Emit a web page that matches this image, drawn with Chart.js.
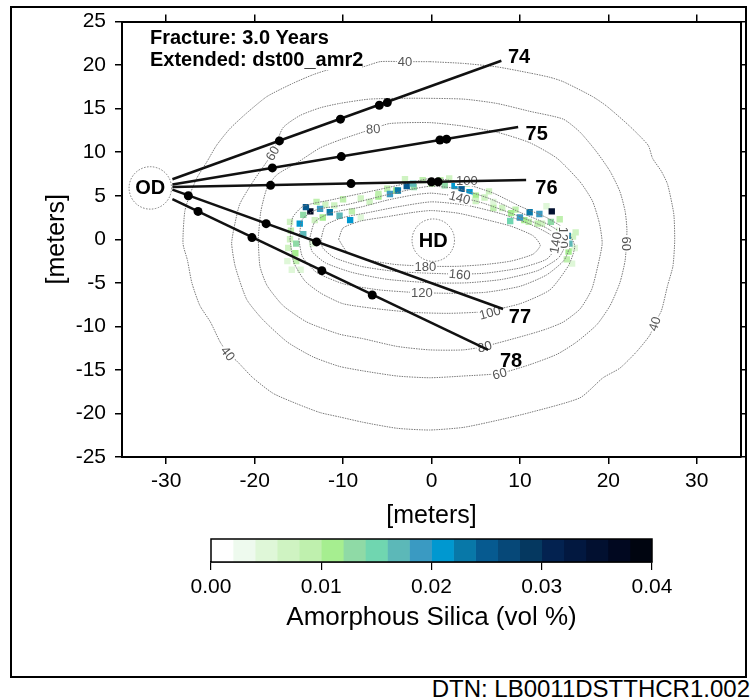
<!DOCTYPE html>
<html>
<head>
<meta charset="utf-8">
<script src="https://cdn.jsdelivr.net/npm/chart.js@4/dist/chart.umd.min.js"></script>
<style>
  html, body { margin: 0; padding: 0; background: #fff; }
  body { width: 751px; height: 700px; position: relative; overflow: hidden; font-family: "Liberation Sans", Arial, sans-serif; }
  #frame { position: absolute; left: 10px; top: 6px; width: 737px; height: 672px; border: 2px solid #000; box-sizing: border-box; }
  #plot { position: absolute; left: 0; top: 0; }
  #bar { position: absolute; left: 0; top: 520px; }
  #dtn { position: absolute; right: 1px; top: 677px; font-size: 24px; line-height: 24px; color: #000; }
</style>
</head>
<body>
<div id="frame"></div>
<canvas id="plot" width="751" height="540"></canvas>
<canvas id="bar" width="751" height="130"></canvas>
<div id="dtn">DTN: LB0011DSTTHCR1.002</div>
<script>
const FONT = '"Liberation Sans", Arial, sans-serif';

const xTicks = [-30, -20, -10, 0, 10, 20, 30];
const yTicks = [-25, -20, -15, -10, -5, 0, 5, 10, 15, 20, 25];

// temperature contours, [x, y] in meters
const contour40 = [[-0.2,20.4],[-3.0,20.4],[-5.8,20.4],[-7.8,19.8],[-11.5,19.5],[-13.4,18.9],[-15.7,17.9],[-18.6,16.4],[-20.9,14.5],[-22.8,12.7],[-24.3,10.8],[-25.4,8.9],[-26.5,7.1],[-27.3,5.2],[-27.9,3.2],[-28.1,-0.5],[-27.6,-2.4],[-27.1,-5.0],[-26.2,-7.6],[-25.0,-9.5],[-23.9,-11.8],[-23.0,-13.1],[-22.0,-14.0],[-20.2,-15.9],[-17.9,-17.7],[-15.2,-18.9],[-12.6,-19.9],[-10.4,-20.4],[-7.8,-21.0],[-3.9,-21.7],[-0.2,-21.9],[3.6,-21.6],[7.4,-20.8],[11.1,-19.9],[16.8,-18.2],[19.4,-15.9],[21.3,-14.8],[23.2,-12.9],[24.7,-11.0],[25.2,-9.7],[26.0,-8.2],[26.7,-5.3],[27.3,-3.1],[27.5,-0.2],[27.4,2.9],[26.7,6.3],[26.0,7.8],[25.0,9.3],[24.5,10.8],[22.4,13.0],[19.8,15.3],[18.2,16.4],[14.9,18.1],[13.4,18.6],[11.1,19.1],[7.4,19.8],[3.6,20.2],[-0.2,20.4]];
const contour60 = [[-22.4,1.0],[-21.7,4.0],[-20.2,6.6],[-18.0,9.9],[-16.8,12.8],[-14.9,14.2],[-12.6,15.1],[-10.4,15.6],[-7.0,16.1],[-2.1,16.2],[3.6,16.1],[7.4,15.6],[11.1,14.7],[14.9,13.8],[16.8,12.3],[18.7,10.0],[20.2,7.8],[21.3,5.5],[21.9,3.2],[22.1,1.0],[21.9,-2.4],[21.3,-5.0],[20.2,-7.6],[18.7,-9.8],[16.4,-11.8],[14.2,-13.2],[11.1,-14.4],[7.7,-15.4],[3.6,-15.7],[-0.2,-15.9],[-3.9,-15.7],[-7.8,-15.1],[-10.4,-14.6],[-13.4,-13.5],[-16.3,-11.8],[-19.1,-9.2],[-20.9,-6.9],[-22.2,-3.1],[-22.6,-0.5],[-22.4,1.0]];
const contour80 = [[-19.6,0.1],[-19.3,3.2],[-18.6,5.9],[-17.5,7.4],[-15.2,8.8],[-12.6,10.5],[-10.4,11.4],[-6.6,12.7],[-4.7,13.3],[-0.2,13.4],[3.6,13.0],[7.4,12.3],[11.1,11.1],[14.2,9.3],[16.8,6.6],[18.2,4.4],[19.0,1.8],[19.3,-0.5],[18.8,-3.1],[18.1,-5.8],[16.8,-8.0],[14.9,-9.5],[13.0,-10.3],[11.1,-10.9],[6.0,-12.3],[3.6,-12.7],[-0.2,-12.7],[-3.9,-12.3],[-7.8,-11.4],[-10.4,-10.9],[-14.1,-9.5],[-16.8,-7.6],[-18.6,-5.3],[-19.4,-3.1],[-19.6,0.1]];
const contour100 = [[-16.0,0],[-15.7,2.5],[-14.5,3.8],[-11,4.6],[-6,5.7],[-2,6.6],[0,7.0],[3,6.6],[7,5.3],[10,3.8],[13,2.5],[15.3,1.0],[16.2,-0.8],[15.5,-3.0],[13.4,-5.8],[10,-7.4],[6,-8.3],[2,-8.5],[-2,-8.4],[-6,-8.0],[-10,-7.4],[-12.5,-6.2],[-14.3,-4.8],[-15.6,-2.6],[-16.0,0]];
const contour120 = [[-15,0],[-14.6,2.3],[-13,3.4],[-9.5,4.0],[-5.5,5.0],[-2,5.8],[0,6.1],[3,5.8],[6.5,4.7],[10,3.1],[13,1.8],[15,0.5],[15.6,-0.8],[15,-2.4],[13,-4.1],[10,-5.4],[6,-6.1],[2,-6.2],[-2,-6.1],[-6,-5.8],[-10,-5.1],[-13,-3.8],[-14.6,-2],[-15,0]];
const contour140 = [[-13.8,0],[-13.2,2],[-11.5,3],[-8,3.7],[-5,4.5],[-2,5.1],[0,5.3],[3,4.9],[6,4.1],[10,2.6],[13,1.3],[14.8,0],[15,-1],[14.3,-2.2],[12,-3.6],[8,-4.6],[4,-5.0],[0,-5.0],[-5,-4.6],[-9,-3.8],[-12,-2.7],[-13.5,-1.4],[-13.8,0]];
const contour160 = [[-12.5,0],[-12,1.6],[-10,2.5],[-7,3.1],[-4,3.7],[0,4.3],[4,3.9],[8,2.9],[11,1.8],[13.6,0.4],[14,-1],[13,-2.3],[10,-3.3],[6,-3.9],[3,-4.0],[0,-3.9],[-4,-3.7],[-8,-3.1],[-11,-2.1],[-12.3,-1],[-12.5,0]];
const contour180 = [[-10.5,0],[-10,1.3],[-8,2.1],[-5,2.6],[-2,3.1],[0,3.3],[3,3.0],[6,2.3],[9,1.5],[11.5,0.4],[12.3,-0.7],[11.5,-1.7],[9,-2.5],[6,-2.9],[3,-3.1],[0,-3.1],[-4,-2.9],[-7,-2.4],[-9.5,-1.5],[-10.5,0]];
const contours = [contour40, contour60, contour80, contour100, contour120, contour140, contour160, contour180];

// contour labels: [x, y, text, angle in degrees]
const contourLabels = [
  [-3.0, 20.4, "40", 0], [-23.0, -13.1, "40", 52], [25.2, -9.7, "40", -72],
  [-18.0, 9.9, "60", -60], [22.1, -0.5, "60", 90], [7.7, -15.4, "60", -15],
  [-6.6, 12.7, "80", -4], [6.0, -12.3, "80", -15],
  [4.0, 6.8, "100", 0], [6.6, -8.4, "100", -15],
  [3.2, 4.8, "140", 15], [-0.7, -3.1, "180", 0], [3.2, -4.0, "160", 5], [-1.1, -6.1, "120", 0],
  [14.9, 0.2, "120", 90], [14.0, -0.4, "140", -80]
];

// fractures from the observation drift
const fractureNames = ["74", "75", "76", "77", "78"];
const fractureStart = [[-29.3, 6.9], [-29.3, 6.3], [-29.3, 6.0], [-29.3, 5.7], [-29.3, 4.6]];
const fractureEnd = [[7.9, 20.5], [9.8, 12.9], [10.7, 6.8], [8.1, -8.0], [6.4, -12.7]];
const fractureLabelAt = [[9.9, 21.0], [11.9, 12.1], [13.0, 6.0], [10.0, -8.9], [9.0, -13.9]];
const sensorX = [-17.2, -10.3, -5.9, -5.0, -18.0, -10.2, 0.95, 1.7, -18.2, -9.1, 0.0, 0.75, -27.5, -18.7, -13.0, -26.4, -20.3, -12.4, -6.7];
const sensorY = [11.3, 13.8, 15.4, 15.7, 8.2, 9.5, 11.4, 11.5, 6.2, 6.4, 6.6, 6.6, 5.0, 1.8, -0.3, 3.2, 0.2, -3.6, -6.4];

// drifts
const driftNames = ["OD", "HD"];
const driftCenter = [[-31.8, 5.9], [0.2, -0.1]];
const driftRadius = 2.4;

// amorphous silica (vol %): halo first, cores last
const silicaX = [-16.0, -16.0, -15.8, -13.0, -11.0, -9.0, -8.0, -7.0, -6.0, -5.0, -3.0, -1.0, 1.0, 2.0, 4.0, 5.0, 6.0, 7.0, 6.5, 8.0, 9.5, 11.0, 12.5, 13.0, 14.5, 16.0, 16.2, -12.3, -14.5, -13.5,
  -12.0, -10.0, -8.0, -6.0, -4.0, -2.0, 0.0, 1.5, 3.0, 5.0, 7.0, 9.0, 10.5, 12.0, 13.5, 14.5, 16.3, 15.9, -16.2, -15.9, -16.3, -14.8, -13.2,
  -13.7, -14.2, -12.6, -11.5, -10.4, -9.2, -14.9, -14.5, -15.3, -15.4, -15.3, -4.7, -3.8, -2.8, -2.1, 2.6, 3.4, 4.3, 8.9, 10.0, 11.1, 12.2, 13.6, 15.1, 15.4, 15.6, 15.5, 15.3];
const silicaY = [2.0, 0.0, -3.5, 4.3, 3.9, 3.2, 2.5, 4.3, 4.9, 5.8, 6.9, 6.8, 6.8, 7.0, 6.4, 5.0, 4.8, 4.3, 5.5, 3.6, 3.4, 2.0, 1.8, 3.8, 2.3, 0.3, -1.0, 2.5, 2.8, -0.5,
  4.0, 4.6, 4.7, 5.2, 5.6, 6.0, 6.4, 6.2, 5.2, 4.4, 3.6, 3.0, 2.2, 1.8, 2.0, 1.0, 0.8, -2.8, -1.0, 1.0, -2.5, -3.5, 2.2,
  3.2, 3.7, 3.5, 3.1, 2.7, 2.2, 1.8, 0.6, -0.5, -1.6, -2.5, 5.2, 5.6, 6.1, 6.4, 6.1, 5.8, 5.4, 2.1, 2.5, 3.1, 2.9, 3.2, 1.1, 0.4, -0.5, -1.4, -2.3];
const silicaVal = [0.006, 0.006, 0.004, 0.008, 0.006, 0.008, 0.004, 0.006, 0.010, 0.008, 0.006, 0.008, 0.008, 0.006, 0.008, 0.010, 0.006, 0.004, 0.006, 0.006, 0.008, 0.008, 0.006, 0.004, 0.008, 0.006, 0.004, 0.010, 0.012, 0.004,
  0.006, 0.008, 0.006, 0.008, 0.010, 0.012, 0.010, 0.012, 0.008, 0.006, 0.008, 0.010, 0.010, 0.008, 0.012, 0.010, 0.006, 0.004, 0.006, 0.008, 0.004, 0.004, 0.006,
  0.036, 0.024, 0.018, 0.022, 0.016, 0.020, 0.020, 0.016, 0.012, 0.010, 0.008, 0.018, 0.022, 0.024, 0.016, 0.020, 0.024, 0.020, 0.014, 0.018, 0.022, 0.018, 0.034, 0.032, 0.022, 0.016, 0.010, 0.008];

// colour bar
const silicaBins = [0, 0.002, 0.004, 0.006, 0.008, 0.010, 0.012, 0.014, 0.016, 0.018, 0.020, 0.022, 0.024, 0.026, 0.028, 0.030, 0.032, 0.034, 0.036, 0.038, 0.040];
const binColors = ["#ffffff", "#eefaee", "#dff7d8", "#cff3c2", "#bff0ae", "#a6ee90", "#8fdaa6", "#70d6b0", "#5cb8b8", "#3a9ac2",
  "#0098d0", "#0878a8", "#065a90", "#064878", "#053860", "#032250", "#021840", "#021030", "#010820", "#000510"];
const barTicks = [0, 0.01, 0.02, 0.03, 0.04];

function silicaColor(v) {
  let i = silicaBins.findIndex((b, k) => k > 0 && v < b) - 1;
  if (i < 0) i = binColors.length - 1;
  return binColors[i];
}

const toPts = arr => arr.map(([x, y]) => ({ x, y }));

const datasets = [];
contours.forEach(c => datasets.push({
  data: toPts(c), showLine: true, pointRadius: 0, borderColor: "#7a7a7a",
  borderWidth: 1, borderDash: [1.5, 1], tension: 0.2, order: 3
}));
datasets.push({
  data: silicaX.map((x, i) => ({ x, y: silicaY[i] })),
  pointStyle: "rect", pointRadius: silicaVal.map(v => v >= 0.014 ? 4.5 : 4.5),
  backgroundColor: silicaVal.map(silicaColor), borderWidth: 0, order: 4
});
fractureStart.forEach((s, i) => datasets.push({
  data: toPts([s, fractureEnd[i]]), showLine: true, pointRadius: 0,
  borderColor: "#111", borderWidth: 2.5, order: 1
}));
datasets.push({
  data: sensorX.map((x, i) => ({ x, y: sensorY[i] })),
  pointRadius: 4.5, backgroundColor: "#000", borderWidth: 0, order: 0
});

const overlay = {
  id: "overlay",
  afterDatasetDraw(chart, args) {
    if (args.index !== 0) return;
    const { ctx, scales: { x, y } } = chart;
    ctx.save();
    ctx.font = "13px " + FONT;
    ctx.textAlign = "center";
    ctx.textBaseline = "middle";
    contourLabels.forEach(([lx, ly, txt, ang]) => {
      ctx.save();
      ctx.translate(x.getPixelForValue(lx), y.getPixelForValue(ly));
      ctx.rotate(ang * Math.PI / 180);
      const w = ctx.measureText(txt).width;
      ctx.fillStyle = "#fff";
      ctx.fillRect(-w / 2 - 1, -6, w + 2, 12);
      ctx.fillStyle = "#555";
      ctx.fillText(txt, 0, 1);
      ctx.restore();
    });
    ctx.restore();
  },
  afterDatasetsDraw(chart) {
    const { ctx, scales: { x, y }, chartArea } = chart;
    ctx.save();
    // drifts
    driftCenter.forEach(([cx, cy], i) => {
      const px = x.getPixelForValue(cx), py = y.getPixelForValue(cy);
      const r = x.getPixelForValue(cx + driftRadius) - px;
      ctx.beginPath();
      ctx.arc(px, py, r, 0, Math.PI * 2);
      ctx.fillStyle = "#fff";
      ctx.fill();
      ctx.setLineDash([1.5, 1.5]);
      ctx.strokeStyle = "#777";
      ctx.lineWidth = 1;
      ctx.stroke();
      ctx.setLineDash([]);
      ctx.fillStyle = "#000";
      ctx.font = "bold 20px " + FONT;
      ctx.textAlign = "center";
      ctx.textBaseline = "middle";
      ctx.fillText(driftNames[i], px, py + 1);
    });
    // fracture numbers
    ctx.font = "bold 20px " + FONT;
    fractureNames.forEach((n, i) => {
      ctx.fillText(n, x.getPixelForValue(fractureLabelAt[i][0]), y.getPixelForValue(fractureLabelAt[i][1]) + 1);
    });
    // run title
    const tx = chartArea.left + 28;
    ctx.fillStyle = "#fff";
    ctx.fillRect(tx - 2, 26, 214, 44);
    ctx.fillStyle = "#000";
    ctx.textAlign = "left";
    ctx.fillText("Fracture: 3.0 Years", tx, 38);
    ctx.fillText("Extended: dst00_amr2", tx, 60);
    ctx.restore();
  }
};

const axisFont = { family: FONT, size: 21 };
const titleFont = { family: FONT, size: 25 };
const tickGrid = { drawOnChartArea: false, color: "#000", lineWidth: 1.5, tickLength: 7 };

new Chart(document.getElementById("plot"), {
  type: "scatter",
  data: { datasets },
  options: {
    responsive: false, animation: false, devicePixelRatio: 1,
    layout: { padding: 0 },
    plugins: { legend: { display: false }, tooltip: { enabled: false } },
    scales: {
      x: {
        type: "linear", position: "bottom", min: -35, max: 35,
        afterBuildTicks: s => { s.ticks = xTicks.map(v => ({ value: v })); },
        afterFit: s => { s.height = 83; },
        ticks: { color: "#000", font: axisFont, padding: 5, maxRotation: 0, callback: v => String(v) },
        grid: tickGrid, border: { color: "#000", width: 2 },
        title: { display: true, text: "[meters]", color: "#000", font: titleFont, padding: { top: 0, bottom: 9 } }
      },
      x2: {
        type: "linear", position: "top", min: -35, max: 35,
        afterBuildTicks: s => { s.ticks = xTicks.map(v => ({ value: v })); },
        afterFit: s => { s.height = 15; },
        ticks: { display: false }, grid: tickGrid, border: { color: "#000", width: 2 }
      },
      y: {
        type: "linear", position: "left", min: -25, max: 25,
        afterBuildTicks: s => { s.ticks = yTicks.map(v => ({ value: v })); },
        afterFit: s => { s.width = 122; },
        ticks: { color: "#000", font: axisFont, padding: 9, callback: v => String(v) },
        grid: tickGrid, border: { color: "#000", width: 2 },
        title: { display: true, text: "[meters]", color: "#000", font: titleFont, padding: { top: 42, bottom: 0 } }
      },
      y2: {
        type: "linear", position: "right", min: -25, max: 25,
        afterBuildTicks: s => { s.ticks = yTicks.map(v => ({ value: v })); },
        afterFit: s => { s.width = 10; },
        ticks: { display: false }, grid: { ...tickGrid, tickLength: 5 }, border: { color: "#000", width: 2 }
      }
    }
  },
  plugins: [overlay]
});

const barOutline = {
  id: "barOutline",
  afterDatasetsDraw(chart) {
    const { ctx, chartArea: a } = chart;
    ctx.save();
    ctx.strokeStyle = "#000";
    ctx.lineWidth = 1.5;
    ctx.strokeRect(a.left, a.top, a.right - a.left, a.bottom - a.top);
    ctx.restore();
  }
};

new Chart(document.getElementById("bar"), {
  type: "bar",
  data: {
    labels: [""],
    datasets: binColors.map((c, i) => ({
      data: [[silicaBins[i], silicaBins[i + 1]]], backgroundColor: c, borderWidth: 0,
      barPercentage: 1, categoryPercentage: 1, grouped: false
    }))
  },
  options: {
    indexAxis: "y", responsive: false, animation: false, devicePixelRatio: 1,
    layout: { padding: { left: 211, right: 99, top: 19, bottom: 0 } },
    plugins: { legend: { display: false }, tooltip: { enabled: false } },
    scales: {
      y: { display: false },
      x: {
        type: "linear", min: 0, max: 0.04,
        afterBuildTicks: s => { s.ticks = barTicks.map(v => ({ value: v })); },
        afterFit: s => { s.height = 88; },
        ticks: { color: "#000", font: axisFont, padding: 5, maxRotation: 0, callback: v => v.toFixed(2) },
        grid: { drawOnChartArea: false, color: "#000", lineWidth: 1.2, tickLength: 8 },
        border: { color: "#000", width: 1.5 },
        title: { display: true, text: "Amorphous Silica (vol %)", color: "#000", font: { family: FONT, size: 26 }, padding: { top: 0, bottom: 17 } }
      }
    }
  },
  plugins: [barOutline]
});
</script>
</body>
</html>
